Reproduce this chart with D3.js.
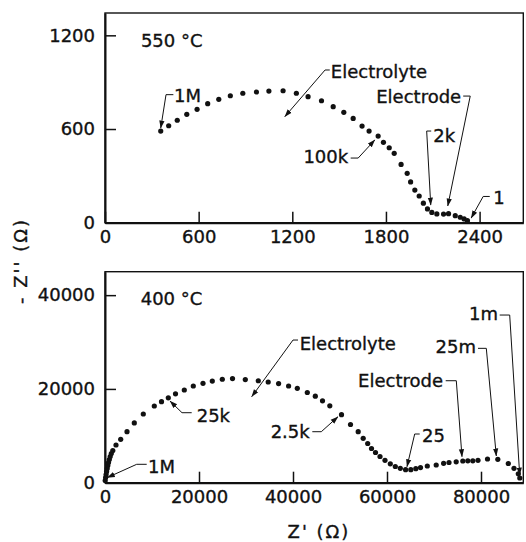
<!DOCTYPE html>
<html>
<head>
<meta charset="utf-8">
<script src="https://cdn.jsdelivr.net/npm/d3@7"></script>
<style>
  body { margin: 0; background: #fff; }
  svg text { font-family: "DejaVu Sans", sans-serif; fill: #111; stroke: #111; stroke-width: 0.35px; }
</style>
</head>
<body>
<svg id="chart" width="526" height="542"></svg>
<script>
// Impedance spectrum at 550 °C (Z' and -Z'' in ohms), from 1 MHz down to 1 Hz
const zReal550 = [357, 408, 463, 524, 590, 658, 729, 803, 883, 970, 1050, 1141, 1226, 1301, 1387,
  1462, 1530, 1590, 1647, 1692, 1750, 1784, 1821, 1853, 1897, 1936, 1958, 1985, 2013, 2040,
  2066, 2094, 2126, 2169, 2201, 2244, 2276, 2301, 2322];
const zImag550 = [587, 621, 656, 694, 726, 762, 790, 813, 829, 837, 843, 845, 829, 807, 781,
  743, 707, 668, 619, 587, 555, 515, 480, 444, 373, 316, 261, 209, 171, 125,
  88, 66, 56, 55, 58, 45, 35, 24, 13];

// Impedance spectrum at 400 °C, from 1 MHz down to 1 mHz
const zReal400 = [43, 128, 234, 340, 468, 596, 745, 915, 1106, 1340, 1660, 2340, 3340, 4681, 6234,
  8149, 10489, 12021, 13468, 15000, 16872, 18787, 20851, 22830, 24957, 27128, 29851, 32617, 34723,
  36936, 39064, 40915, 43043, 44745, 46277, 47830, 50319, 52234, 53872, 54936, 55894, 56702, 57553,
  58511, 59574, 60702, 61766, 62830, 63957, 65064, 66128, 67128, 68574, 70468, 72043, 73191, 74723,
  76128, 77191, 78255, 79362, 81383, 83574, 85809, 87021, 87936, 88255];
const zImag400 = [469, 1109, 1748, 2388, 3028, 3667, 4307, 4947, 5586, 6226, 6866, 8038, 9254, 10874, 12751,
  14648, 16354, 17271, 18102, 18955, 19765, 20618, 21194, 21684, 22068, 22217, 22004, 21748, 21471,
  21151, 20618, 20128, 19232, 18443, 17463, 16397, 14499, 12410, 10874, 9467, 8358, 7292, 6439,
  5586, 4776, 4030, 3454, 3070, 2772, 2772, 2985, 3220, 3561, 3774, 4136, 4307, 4456,
  4627, 4670, 4670, 4776, 5053, 4989, 4094, 3070, 1898, 1002];

const ticksX550 = [0, 600, 1200, 1800, 2400];
const ticksY550 = [0, 600, 1200];
const ticksX400 = [0, 20000, 40000, 60000, 80000];
const ticksY400 = [0, 20000, 40000];

// Frequency and process labels: text position and leader path in data units (ends at arrow tip)
const notes550 = [
  { text: "1M", at: [442, 773], anchor: "start", path: [[438, 820], [391, 820], [357, 606]] },
  { text: "Electrolyte", at: [1447, 927], anchor: "start", path: [[1440, 978], [1410, 978], [1152, 679]] },
  { text: "Electrode", at: [2282, 767], anchor: "end", path: [[2295, 811], [2340, 811], [2196, 107]] },
  { text: "2k", at: [2103, 517], anchor: "start", path: [[2090, 587], [2061, 587], [2087, 113]] },
  { text: "100k", at: [1558, 383], anchor: "end", path: [[1574, 414], [1622, 414], [1729, 530]] },
  { text: "1", at: [2487, 120], anchor: "start", path: [[2465, 168], [2423, 168], [2346, 30]] }
];
const notes400 = [
  { text: "1M", at: [9149, 2068], anchor: "start", path: [[8872, 3923], [6745, 3923], [500, 1100]] },
  { text: "25k", at: [19511, 13006], anchor: "start", path: [[18447, 14925], [16383, 14925], [13830, 17420]] },
  { text: "Electrolyte", at: [41426, 28294], anchor: "start", path: [[41064, 30426], [40000, 30426], [31213, 18337]] },
  { text: "2.5k", at: [43553, 9531], anchor: "end", path: [[44106, 10874], [46021, 10874], [49574, 14072]] },
  { text: "25", at: [67447, 8742], anchor: "start", path: [[66957, 10384], [65894, 10384], [64255, 3412]] },
  { text: "Electrode", at: [71915, 20405], anchor: "end", path: [[72489, 21748], [74745, 21748], [75957, 5544]] },
  { text: "25m", at: [78936, 27655], anchor: "end", path: [[79362, 28657], [81128, 28657], [83255, 5693]] },
  { text: "1m", at: [83617, 34691], anchor: "end", path: [[83979, 35757], [86106, 35757], [88234, 1642]] }
];

const svg = d3.select("#chart");
const left = 105, right = 523.3;

svg.append("defs").append("marker")
  .attr("id", "tip")
  .attr("viewBox", "0 -4 9 8")
  .attr("refX", 8.5).attr("refY", 0)
  .attr("markerUnits", "userSpaceOnUse")
  .attr("markerWidth", 8).attr("markerHeight", 7)
  .attr("orient", "auto")
  .append("path").attr("d", "M0,-3L9,0L0,3Z").attr("fill", "#111");

const panels = [
  { re: zReal550, im: zImag550, xMax: 2680, yMax: 1343, top: 13, bottom: 222.7,
    xTicks: ticksX550, yTicks: ticksY550, title: "550 °C", titleAt: [230, 1125], notes: notes550 },
  { re: zReal400, im: zImag400, xMax: 89000, yMax: 45000, top: 271.7, bottom: 482.7,
    xTicks: ticksX400, yTicks: ticksY400, title: "400 °C", titleAt: [7596, 37889], notes: notes400 }
];

panels.forEach(p => {
  const x = d3.scaleLinear().domain([0, p.xMax]).range([left, right]);
  const y = d3.scaleLinear().domain([0, p.yMax]).range([p.bottom, p.top]);
  const g = svg.append("g");

  // frame
  g.append("rect")
    .attr("x", left).attr("y", p.top)
    .attr("width", right - left).attr("height", p.bottom - p.top)
    .attr("fill", "none").attr("stroke", "#111").attr("stroke-width", 1.4);

  const xAxis = g.append("g").attr("transform", `translate(0,${p.bottom})`)
    .call(d3.axisBottom(x).tickValues(p.xTicks).tickFormat(d3.format("d"))
      .tickSizeInner(-11).tickSizeOuter(0).tickPadding(8));
  const yAxis = g.append("g").attr("transform", `translate(${left},0)`)
    .call(d3.axisLeft(y).tickValues(p.yTicks).tickFormat(d3.format("d"))
      .tickSizeInner(-11).tickSizeOuter(0).tickPadding(10));
  [xAxis, yAxis].forEach(a => {
    a.select(".domain").attr("stroke", "#111").attr("stroke-width", 2);
    a.selectAll(".tick line").attr("stroke", "#111").attr("stroke-width", 1.5);
    a.selectAll(".tick text").style("font-size", "18px").attr("fill", "#111");
  });

  // data points
  g.selectAll("circle").data(p.re.map((r, i) => [r, p.im[i]]))
    .join("circle")
    .attr("cx", d => x(d[0])).attr("cy", d => y(d[1]))
    .attr("r", 2.6).attr("fill", "#111");

  // temperature label
  g.append("text").attr("x", x(p.titleAt[0])).attr("y", y(p.titleAt[1]))
    .style("font-size", "18px").text(p.title);

  // leaders and labels
  const line = d3.line().x(d => x(d[0])).y(d => y(d[1]));
  p.notes.forEach(n => {
    g.append("path").attr("d", line(n.path))
      .attr("fill", "none").attr("stroke", "#111").attr("stroke-width", 1)
      .attr("marker-end", "url(#tip)");
    g.append("text").attr("x", x(n.at[0])).attr("y", y(n.at[1]))
      .attr("text-anchor", n.anchor).style("font-size", "18px").text(n.text);
  });
});

// axis titles
svg.append("text").attr("x", 319).attr("y", 538).attr("text-anchor", "middle")
  .style("font-size", "18px").style("letter-spacing", "2px").text("Z' (Ω)");
svg.append("text").attr("transform", "translate(27,261) rotate(-90)").attr("text-anchor", "middle")
  .style("font-size", "18px").style("letter-spacing", "2px").text("- Z'' (Ω)");
</script>
</body>
</html>
